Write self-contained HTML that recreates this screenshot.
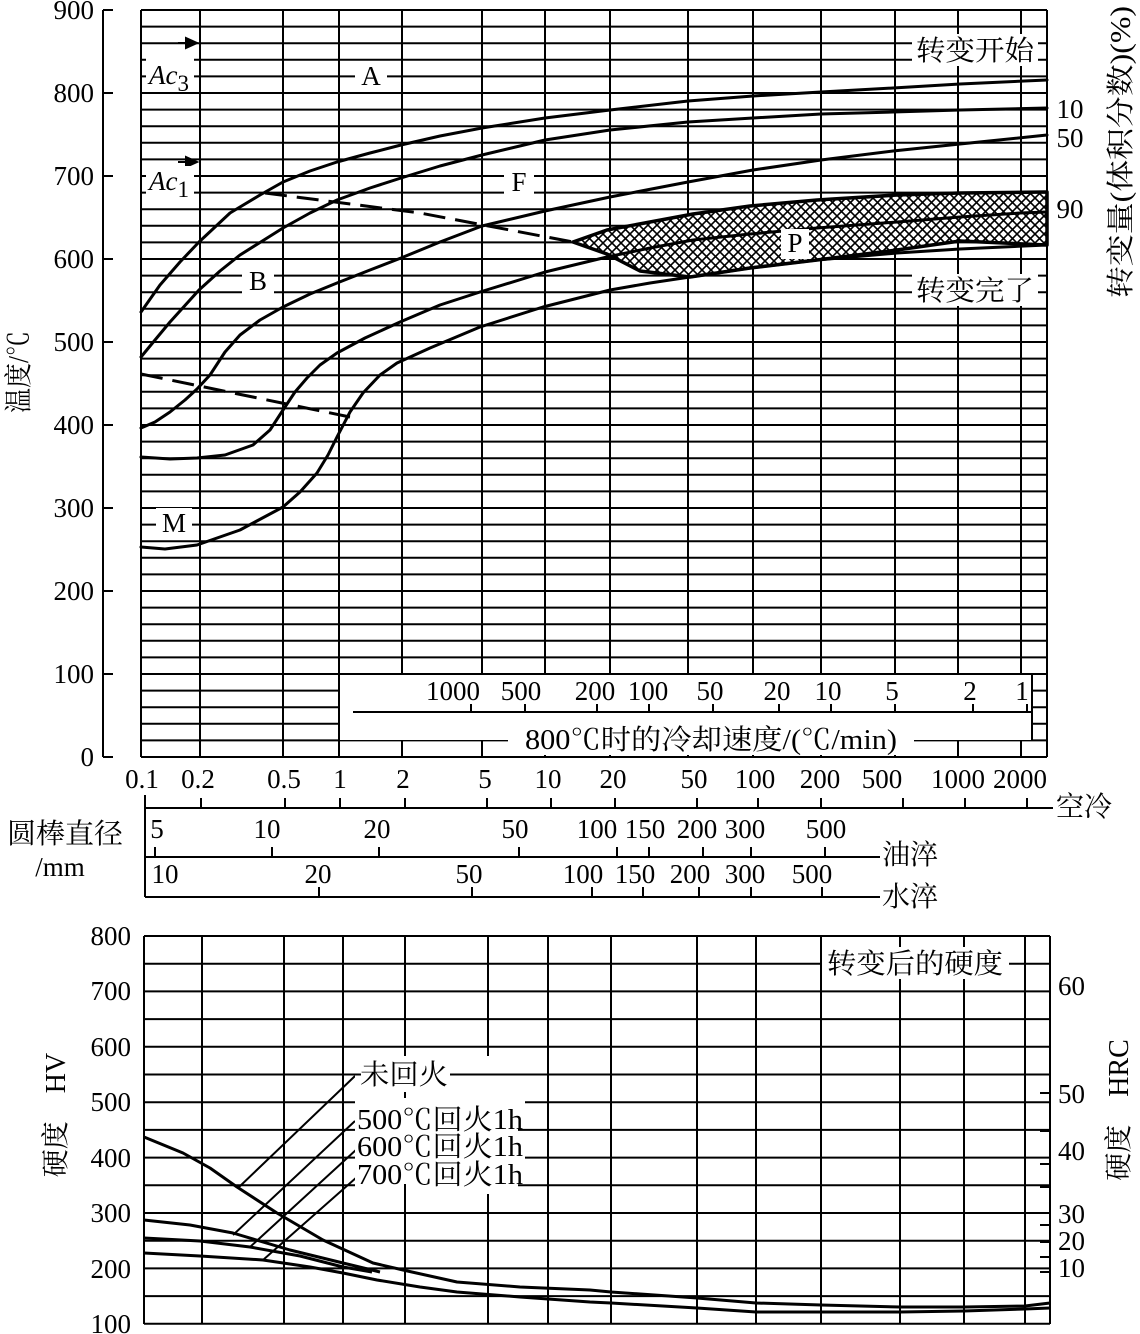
<!DOCTYPE html>
<html><head><meta charset="utf-8"><style>
html,body{margin:0;padding:0;background:#fff;}
svg{display:block;}
text{font-family:"Liberation Serif","Noto Serif CJK SC",serif;fill:#000;}
.n{font-size:27px;}
.c{font-size:28px;font-family:"Liberation Serif","Noto Serif CJK SC","Noto Sans CJK SC",serif;}
</style></head><body>
<svg width="1140" height="1334" viewBox="0 0 1140 1334" xmlns="http://www.w3.org/2000/svg">
<defs>
<pattern id="hx" width="9" height="9" patternUnits="userSpaceOnUse">
<rect width="9" height="9" fill="#fff"/>
<path d="M0 0L9 9M9 0L0 9" stroke="#000" stroke-width="1.6"/>
</pattern>
</defs>
<rect width="1140" height="1334" fill="#fff"/>

<g stroke="#000" stroke-width="2" fill="none">
<path d="M141 757H1047M141 740.4H1047M141 723.8H1047M141 707.2H1047M141 690.6H1047M141 674H1047M141 657.4H1047M141 640.8H1047M141 624.2H1047M141 607.6H1047M141 591H1047M141 574.4H1047M141 557.8H1047M141 541.2H1047M141 524.6H1047M141 508H1047M141 491.4H1047M141 474.8H1047M141 458.2H1047M141 441.6H1047M141 425H1047M141 408.4H1047M141 391.8H1047M141 375.2H1047M141 358.6H1047M141 342H1047M141 325.4H1047M141 308.8H1047M141 292.2H1047M141 275.6H1047M141 259H1047M141 242.4H1047M141 225.8H1047M141 209.2H1047M141 192.6H1047M141 176H1047M141 159.4H1047M141 142.8H1047M141 126.2H1047M141 109.6H1047M141 93H1047M141 76.4H1047M141 59.8H1047M141 43.2H1047M141 26.6H1047M141 10H1047"/>
<path d="M141 10V757M200 10V757M283 10V757M339 10V757M402 10V757M482 10V757M545 10V757M610 10V757M688 10V757M753 10V757M821 10V757M895 10V757M958 10V757M1021 10V757M1047 10V757"/>
<path d="M103 10V757M103 10H113M103 93H113M103 176H113M103 259H113M103 342H113M103 425H113M103 508H113M103 591H113M103 674H113M103 757H113"/>
</g>

<rect x="340" y="675" width="692" height="65" fill="#fff"/>
<g stroke="#000" stroke-width="2" fill="none">
<path d="M339 674H1032V740M353 712H1032"/>
<path d="M471 712V704M525 712V704M597 712V704M649 712V704M713 712V704M779 712V704M831 712V704M895 712V704M973 712V704M1027 712V704"/>
</g>
<g class="n" text-anchor="middle">
<text x="453" y="700">1000</text><text x="521" y="700">500</text><text x="595" y="700">200</text><text x="648" y="700">100</text><text x="710" y="700">50</text><text x="777" y="700">20</text><text x="828" y="700">10</text><text x="892" y="700">5</text><text x="970" y="700">2</text><text x="1022" y="700">1</text>
</g>
<rect x="508" y="725" width="406" height="30" fill="#fff"/>
<text class="c" x="711" y="749" text-anchor="middle" textLength="372" lengthAdjust="spacingAndGlyphs">800℃时的冷却速度/(℃/min)</text>

<path d="M573 242 L607 230 L650 222 L693 214 L750 206 L817 200 L897 195 L960 193 L1047 192 L1047 245 L960 241 L897 250 L817 260 L750 268 L690 277 L640 271 L607 254 Z" fill="url(#hx)" stroke="#000" stroke-width="3.5" stroke-linejoin="round"/>

<g stroke="#000" stroke-width="3" fill="none" stroke-linejoin="round" stroke-linecap="round">
<polyline points="141,312 160,285 180,262 199,242 230,213 260,195 283,182 310,171 337,162 370,153 401,145 440,136 482,128 545,118 610,110 688,101 753,96 821,92 893,88 960,84 1047,80"/>
<polyline points="141,357 155,340 170,322 199,290 220,271 240,255 283,228 310,213 337,200 370,188 401,178 440,166 482,155 545,140 610,130 688,122 753,118 821,114 893,112 960,110 1047,108"/>
<polyline points="141,428 155,422 170,412 185,400 197,389 210,375 225,352 240,335 260,320 283,307 310,294 337,283 370,270 401,258 440,242 482,226 545,211 610,197 688,182 753,170 821,160 893,151 960,144 1047,135"/>
<polyline points="141,457 170,459 197,458 225,455 253,445 270,430 283,410 295,392 307,378 320,365 337,353 365,338 400,322 440,305 480,292 545,272 607,257 650,248 693,240 750,234 817,228 897,222 960,217 1020,213 1047,212"/>
<polyline points="141,547 165,549 197,545 240,530 283,507 300,492 317,473 328,455 337,437 350,412 363,393 380,375 397,363 430,348 480,327 543,307 610,290 650,283 690,277 750,268 817,260 897,253 960,249 1047,245"/>
</g>
<g stroke="#000" stroke-width="3" fill="none" stroke-dasharray="22,10">
<path d="M265 193 L420 213 L573 242"/>
<path d="M141 374 L350 417"/>
</g>

<g stroke="#000" stroke-width="2">
<path d="M178 43H196M186 38L197 43L186 48Z" fill="#000"/>
<path d="M178 162H196M186 157L197 162L186 167Z" fill="#000"/>
</g>
<rect x="146" y="58" width="48" height="34" fill="#fff"/>
<text x="149" y="84" style="font-size:27px;font-style:italic">Ac<tspan dy="7" style="font-style:normal;font-size:23px">3</tspan></text>
<rect x="146" y="166" width="48" height="34" fill="#fff"/>
<text x="149" y="190" style="font-size:27px;font-style:italic">Ac<tspan dy="7" style="font-style:normal;font-size:23px">1</tspan></text>

<g class="n" text-anchor="middle">
<rect x="355" y="61" width="32" height="30" fill="#fff"/><text x="371" y="85">A</text>
<rect x="504" y="167" width="30" height="28" fill="#fff"/><text x="519" y="191">F</text>
<rect x="242" y="266" width="32" height="28" fill="#fff"/><text x="258" y="290">B</text>
<rect x="156" y="508" width="36" height="30" fill="#fff"/><text x="174" y="532">M</text>
<rect x="781" y="229" width="28" height="30" fill="#fff"/><text x="795" y="252">P</text>
</g>
<rect x="912" y="34" width="126" height="32" fill="#fff"/>
<text class="c" x="975" y="60" text-anchor="middle" textLength="118" lengthAdjust="spacingAndGlyphs">转变开始</text>
<rect x="912" y="274" width="126" height="32" fill="#fff"/>
<text class="c" x="975" y="300" text-anchor="middle" textLength="118" lengthAdjust="spacingAndGlyphs">转变完了</text>

<g class="n" text-anchor="middle">
<text x="1070" y="118">10</text><text x="1070" y="147">50</text><text x="1070" y="218">90</text>
</g>
<text class="c" transform="translate(1130,152) rotate(-90)" text-anchor="middle" textLength="292" lengthAdjust="spacingAndGlyphs">转变量(体积分数)(%)</text>

<g class="n" text-anchor="end">
<text x="94" y="19">900</text><text x="94" y="102">800</text><text x="94" y="185">700</text><text x="94" y="268">600</text><text x="94" y="351">500</text><text x="94" y="434">400</text><text x="94" y="517">300</text><text x="94" y="600">200</text><text x="94" y="683">100</text><text x="94" y="766">0</text>
</g>
<text class="c" transform="translate(28,372) rotate(-90)" text-anchor="middle" textLength="82" lengthAdjust="spacingAndGlyphs">温度/℃</text>

<g class="n" text-anchor="middle">
<text x="142" y="788">0.1</text><text x="198" y="788">0.2</text><text x="284" y="788">0.5</text><text x="340" y="788">1</text><text x="403" y="788">2</text><text x="485" y="788">5</text><text x="548" y="788">10</text><text x="613" y="788">20</text><text x="694" y="788">50</text><text x="755" y="788">100</text><text x="820" y="788">200</text><text x="882" y="788">500</text><text x="958" y="788">1000</text><text x="1020" y="788">2000</text>
</g>
<g stroke="#000" stroke-width="2" fill="none">
<path d="M145 795V897M145 808H1053M145 857H880M145 897H880"/>
<path d="M201 808V798M285 808V798M340 808V798M405 808V798M487 808V798M551 808V798M615 808V798M697 808V798M758 808V798M821 808V798M903 808V798M965 808V798M1027 808V798"/>
<path d="M155 857V847M272 857V847M379 857V847M519 857V847M617 857V847M649 857V847M703 857V847M751 857V847M825 857V847"/>
<path d="M319 897V887M472 897V887M592 897V887M643 897V887M699 897V887M751 897V887M822 897V887"/>
</g>
<text class="c" x="1056" y="816">空冷</text>
<text class="c" x="882" y="864">油淬</text>
<text class="c" x="882" y="906">水淬</text>
<g class="n" text-anchor="middle">
<text x="157" y="838">5</text><text x="267" y="838">10</text><text x="377" y="838">20</text><text x="515" y="838">50</text><text x="597" y="838">100</text><text x="645" y="838">150</text><text x="697" y="838">200</text><text x="745" y="838">300</text><text x="826" y="838">500</text>
<text x="165" y="883">10</text><text x="318" y="883">20</text><text x="469" y="883">50</text><text x="583" y="883">100</text><text x="635" y="883">150</text><text x="690" y="883">200</text><text x="745" y="883">300</text><text x="812" y="883">500</text>
</g>
<text class="c" x="65" y="843" text-anchor="middle" textLength="116" lengthAdjust="spacingAndGlyphs">圆棒直径</text>
<text class="n" x="60" y="876" text-anchor="middle">/mm</text>

<g stroke="#000" stroke-width="2" fill="none">
<path d="M144 936H1050M144 963.7H1050M144 991.4H1050M144 1019.1H1050M144 1046.8H1050M144 1074.5H1050M144 1102.2H1050M144 1129.9H1050M144 1157.6H1050M144 1185.3H1050M144 1213H1050M144 1240.7H1050M144 1268.4H1050M144 1296.1H1050M144 1323.8H1050"/>
<path d="M144 936V1324M202 936V1324M284 936V1324M343 936V1324M405 936V1324M488 936V1324M548 936V1324M611 936V1324M697 936V1324M756 936V1324M821 936V1324M900 936V1324M964 936V1324M1025 936V1324M1050 936V1324"/>
<path d="M1040 1093H1050M1040 1131H1050M1040 1164H1050M1040 1187H1050M1040 1225H1050M1040 1242H1050M1040 1257H1050M1040 1272H1050"/>
</g>
<g stroke="#000" stroke-width="3" fill="none" stroke-linejoin="round">
<polyline points="144,1137 183,1153 210,1168 237,1187 277,1213 323,1240 373,1263 403,1270 457,1282 520,1287 590,1290 611,1292 697,1298 756,1303 821,1305 900,1307 964,1307 1025,1306 1050,1303"/>
<polyline points="144,1220 190,1225 233,1233 290,1250 343,1263 380,1272"/>
<polyline points="144,1238 200,1241 250,1247 300,1256 343,1267 372,1272"/>
<polyline points="144,1253 200,1256 263,1260 310,1267 343,1273 377,1280 420,1287 457,1292 520,1297 590,1302 611,1303 697,1308 756,1312 821,1312 900,1312 964,1311 1025,1309 1050,1308"/>
</g>
<g stroke="#000" stroke-width="2">
<path d="M238 1188L355 1076M233 1235L355 1121M250 1247L357 1149M263 1260L357 1177"/>
</g>
<rect x="355" y="1056" width="170" height="138" fill="#fff"/>
<g stroke="#000" stroke-width="2"><path d="M355 1074.5H361M450 1074.5H525M518 1129.9H525M518 1185.3H525M405 1092V1098M405 1184V1194"/></g>
<text class="c" x="360" y="1084" textLength="88" lengthAdjust="spacingAndGlyphs">未回火</text>
<text class="c" x="357" y="1129" textLength="166" lengthAdjust="spacingAndGlyphs">500℃回火1h</text>
<text class="c" x="357" y="1156" textLength="166" lengthAdjust="spacingAndGlyphs">600℃回火1h</text>
<text class="c" x="357" y="1184" textLength="166" lengthAdjust="spacingAndGlyphs">700℃回火1h</text>
<rect x="822" y="947" width="187" height="32" fill="#fff"/>
<text class="c" x="915" y="973" text-anchor="middle" textLength="176" lengthAdjust="spacingAndGlyphs">转变后的硬度</text>

<g class="n" text-anchor="end">
<text x="131" y="945">800</text><text x="131" y="1000">700</text><text x="131" y="1056">600</text><text x="131" y="1111">500</text><text x="131" y="1167">400</text><text x="131" y="1222">300</text><text x="131" y="1278">200</text><text x="131" y="1333">100</text>
</g>
<g class="n">
<text x="1058" y="995">60</text><text x="1058" y="1103">50</text><text x="1058" y="1160">40</text><text x="1058" y="1223">30</text><text x="1058" y="1250">20</text><text x="1058" y="1277">10</text>
</g>
<text class="c" transform="translate(65,1115) rotate(-90)" text-anchor="middle">硬度　HV</text>
<text class="c" transform="translate(1128,1110) rotate(-90)" text-anchor="middle">硬度　HRC</text>
</svg>
</body></html>
